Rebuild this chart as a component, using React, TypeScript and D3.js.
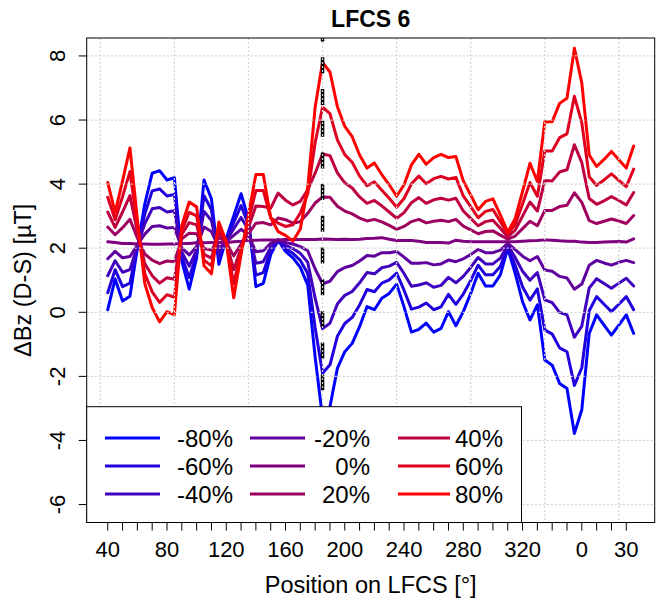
import React from 'react'
import * as d3 from 'd3'

// position along the LFCS, degrees (values past 360 wrap round to 0..35)
const positions = [
  40, 45, 50, 55, 60, 65, 70, 75, 80, 85, 90, 95, 100, 105, 110, 115, 120, 125,
  130, 135, 140, 145, 150, 155, 160, 165, 170, 175, 180, 185, 190, 195, 200, 205,
  210, 215, 220, 225, 230, 235, 240, 245, 250, 255, 260, 265, 270, 275, 280, 285,
  290, 295, 300, 305, 310, 315, 320, 325, 330, 335, 340, 345, 350, 355, 360, 365,
  370, 375, 380, 385, 390, 395,
]

const seriesLabels = ['-80%', '-60%', '-40%', '-20%', '0%', '20%', '40%', '60%', '80%']
const seriesColors = ['#0000FF', '#1F00DF', '#3F00BF', '#5F009F', '#7F007F', '#9F005F', '#BF003F', '#DF001F', '#FF0000']

const minus80 = [
  0.08, 1.04, 0.35, 0.5, 2.0, 3.38, 4.34, 4.42, 4.13, 4.2, 1.6, 0.72, 1.7, 4.13, 3.54, 1.5, 2.3, 3.0,
  3.7, 2.9, 0.8, 0.9, 1.8, 2.25, 1.9, 1.7, 1.4, 0.85, -1.4, -3.3, -2.95, -1.75, -1.23, -0.97,
  -0.45, 0.18, 0.08, 0.44, 0.59, 0.88, 0.17, -0.62, -0.53, -0.34, -0.62, -0.5, 0.02, -0.42, 0.02, 0.59,
  1.22, 0.82, 0.82, 1.17, 2.0, 1.22, 0.33, -0.24, 0.23, -1.49, -1.65, -2.22, -2.38, -3.78, -3.04, -0.66,
  -0.08, -0.4, -0.71, -0.4, -0.08, -0.66,
]
const minus60 = [
  0.61, 1.33, 0.8, 0.91, 2.03, 3.07, 3.79, 3.85, 3.63, 3.68, 1.74, 1.08, 1.82, 3.64, 3.2, 1.67, 2.27, 2.8,
  3.33, 2.74, 1.16, 1.24, 1.92, 2.25, 1.99, 1.84, 1.62, 1.21, -0.48, -1.9, -1.64, -0.75, -0.35, -0.16,
  0.23, 0.71, 0.64, 0.91, 1.01, 1.22, 0.69, 0.1, 0.16, 0.29, 0.08, 0.17, 0.56, 0.25, 0.57, 0.99,
  1.47, 1.17, 1.17, 1.43, 2.05, 1.47, 0.8, 0.38, 0.73, -0.55, -0.68, -1.11, -1.23, -2.28, -1.73, 0.05,
  0.49, 0.25, 0.02, 0.25, 0.49, 0.08,
]
const minus40 = [
  1.14, 1.61, 1.25, 1.33, 2.07, 2.76, 3.23, 3.27, 3.13, 3.17, 1.88, 1.44, 1.94, 3.15, 2.86, 1.84, 2.24, 2.6,
  2.96, 2.58, 1.53, 1.58, 2.03, 2.26, 2.09, 1.99, 1.84, 1.56, 0.44, -0.51, -0.34, 0.26, 0.53, 0.65,
  0.92, 1.24, 1.2, 1.39, 1.44, 1.56, 1.21, 0.81, 0.85, 0.92, 0.78, 0.84, 1.09, 0.92, 1.12, 1.4,
  1.71, 1.51, 1.51, 1.69, 2.1, 1.71, 1.28, 1.0, 1.24, 0.39, 0.3, 0.0, -0.08, -0.78, -0.43, 0.76,
  1.05, 0.9, 0.75, 0.91, 1.06, 0.82,
]
const minus20 = [
  1.67, 1.9, 1.7, 1.74, 2.1, 2.44, 2.68, 2.7, 2.63, 2.65, 2.01, 1.79, 2.05, 2.66, 2.52, 2.01, 2.2, 2.4,
  2.59, 2.41, 1.89, 1.92, 2.15, 2.26, 2.18, 2.13, 2.05, 1.92, 1.35, 0.89, 0.97, 1.27, 1.4, 1.46,
  1.6, 1.77, 1.75, 1.86, 1.86, 1.9, 1.72, 1.53, 1.53, 1.55, 1.48, 1.51, 1.63, 1.58, 1.67, 1.8,
  1.96, 1.86, 1.86, 1.94, 2.15, 1.96, 1.75, 1.61, 1.74, 1.32, 1.28, 1.12, 1.07, 0.72, 0.88, 1.47,
  1.62, 1.54, 1.47, 1.56, 1.62, 1.55,
]
const zero = [
  2.2, 2.18, 2.15, 2.15, 2.13, 2.13, 2.12, 2.12, 2.13, 2.13, 2.15, 2.15, 2.17, 2.17, 2.18, 2.18, 2.17, 2.2,
  2.22, 2.25, 2.25, 2.26, 2.26, 2.26, 2.27, 2.27, 2.27, 2.27, 2.27, 2.29, 2.28, 2.27, 2.28, 2.27,
  2.28, 2.3, 2.31, 2.33, 2.28, 2.24, 2.24, 2.24, 2.22, 2.18, 2.18, 2.18, 2.16, 2.25, 2.22, 2.2,
  2.2, 2.2, 2.2, 2.2, 2.2, 2.2, 2.22, 2.23, 2.24, 2.26, 2.25, 2.23, 2.22, 2.22, 2.19, 2.18,
  2.18, 2.19, 2.2, 2.21, 2.19, 2.29,
]
const plus20 = [
  2.66, 2.42, 2.64, 2.9, 2.32, 1.82, 1.63, 1.52, 1.6, 1.58, 2.29, 2.47, 2.45, 1.99, 1.94, 2.34, 2.18, 1.76,
  2.12, 2.45, 2.78, 2.8, 2.73, 2.94, 2.89, 2.78, 2.83, 3.09, 3.41, 3.6, 3.59, 3.31, 3.16, 3.07,
  2.94, 2.85, 2.9, 2.82, 2.71, 2.59, 2.68, 2.83, 2.9, 2.79, 2.84, 2.87, 2.83, 2.9, 2.69, 2.57,
  2.45, 2.52, 2.54, 2.41, 2.28, 2.38, 2.61, 2.84, 2.7, 3.18, 3.18, 3.3, 3.34, 3.73, 3.43, 2.86,
  2.77, 2.84, 2.91, 2.85, 2.77, 3.02,
]
const plus40 = [
  3.13, 2.65, 3.13, 3.64, 2.52, 1.52, 1.14, 0.91, 1.08, 1.03, 2.43, 2.8, 2.73, 1.81, 1.69, 2.5, 2.19, 1.33,
  2.01, 2.65, 3.32, 3.3, 3.25, 3.72, 3.5, 3.35, 3.46, 3.82, 4.34, 4.94, 4.89, 4.35, 4.04, 3.88,
  3.6, 3.4, 3.49, 3.32, 3.13, 2.93, 3.11, 3.42, 3.58, 3.4, 3.51, 3.56, 3.5, 3.56, 3.16, 2.93,
  2.7, 2.83, 2.87, 2.62, 2.35, 2.56, 3.0, 3.44, 3.16, 4.11, 4.1, 4.38, 4.45, 5.23, 4.67, 3.55,
  3.37, 3.48, 3.61, 3.49, 3.35, 3.74,
]
const plus60 = [
  3.59, 2.89, 3.61, 4.39, 2.71, 1.21, 0.64, 0.31, 0.55, 0.47, 2.56, 3.12, 3.01, 1.63, 1.45, 2.66, 2.19, 0.89,
  1.91, 2.85, 3.8, 3.8, 2.95, 2.78, 2.68, 2.73, 3.1, 3.7, 5.3, 6.4, 6.2, 5.38, 4.92, 4.68,
  4.25, 3.95, 4.07, 3.81, 3.56, 3.28, 3.55, 4.01, 4.25, 4.01, 4.17, 4.24, 4.16, 4.21, 3.63, 3.3,
  2.95, 3.15, 3.21, 2.83, 2.43, 2.74, 3.38, 4.05, 3.62, 5.03, 5.03, 5.45, 5.57, 6.74, 5.91, 4.23,
  3.96, 4.13, 4.32, 4.12, 3.92, 4.47,
]
const plus80 = [
  4.05, 3.12, 4.1, 5.13, 2.9, 0.9, 0.15, -0.3, 0.02, -0.08, 2.7, 3.44, 3.29, 1.45, 1.2, 2.82, 2.2, 0.45,
  1.8, 3.05, 4.3, 4.3, 2.95, 2.52, 2.4, 2.22, 2.6, 3.9, 6.4, 7.8, 7.5, 6.42, 5.8, 5.48,
  4.91, 4.5, 4.66, 4.3, 3.98, 3.62, 3.98, 4.6, 4.93, 4.62, 4.83, 4.93, 4.83, 4.86, 4.1, 3.66,
  3.2, 3.46, 3.54, 3.04, 2.5, 2.92, 3.77, 4.65, 4.08, 5.95, 5.95, 6.52, 6.68, 8.24, 7.15, 4.91,
  4.55, 4.77, 5.02, 4.76, 4.5, 5.19,
]
const seriesValues = [minus80, minus60, minus40, minus20, zero, plus20, plus40, plus60, plus80]

const xTicks = [
  40, 50, 60, 70, 80, 90, 100, 110, 120, 130, 140, 150, 160, 170, 180, 190, 200, 210,
  220, 230, 240, 250, 260, 270, 280, 290, 300, 310, 320, 330, 340, 350, 360, 370, 380, 390,
]
const xLabelAt = [40, 80, 120, 160, 200, 240, 280, 320, 360, 390]
const xLabelText = ['40', '80', '120', '160', '200', '240', '280', '320', '0', '30']
const yTicks = [-6, -4, -2, 0, 2, 4, 6, 8]
const yLimits = [-6, 8]
const gridX = [35, 85, 135, 185, 235, 285, 335, 385]
const markerAt = 185

const W = 659
const H = 599
const left = 86.7
const right = 654.7
const top = 38
const bottom = 522.5
const font = 'Liberation Sans, Arial, Helvetica, sans-serif'

// R style 4% padding of the axis ranges
const pad = (lo: number, hi: number) => {
  const d = (hi - lo) * 0.04
  return [lo - d, hi + d]
}

export default function App() {
  const [x0, x1] = d3.extent(positions) as [number, number]
  const x = d3.scaleLinear().domain(pad(x0, x1)).range([left, right])
  const y = d3.scaleLinear().domain(pad(yLimits[0], yLimits[1])).range([bottom, top])
  const line = d3.line<number>().x((_, i) => x(positions[i])).y(v => y(v))

  const legendCols = [
    { lx0: 105, lx1: 160, tx: 233 },
    { lx0: 250, lx1: 305, tx: 370 },
    { lx0: 398, lx1: 450, tx: 503 },
  ]
  const legendRows = [438, 466, 494]
  const cx = (left + right) / 2
  const cy = (top + bottom) / 2

  return (
    <svg width={W} height={H} style={{ position: 'absolute', left: 0, top: 0, display: 'block', background: '#fff' }} fontFamily={font}>
      <rect x={0} y={0} width={W} height={H} fill="#fff" />

      <g fill="none" strokeLinejoin="round" strokeLinecap="round">
        {seriesValues.map((vals, i) => (
          <path key={seriesLabels[i]} d={line(vals) || ''} stroke={seriesColors[i]} strokeWidth={3} />
        ))}
      </g>

      <line x1={x(markerAt)} x2={x(markerAt)} y1={top} y2={bottom} stroke="#000" strokeWidth={3.5} strokeDasharray="16 15.7" strokeDashoffset={12.4} />

      <g stroke="#D3D3D3" strokeWidth={1.2} strokeDasharray="2 2">
        {gridX.map(g => <line key={'gx' + g} x1={x(g)} x2={x(g)} y1={top} y2={bottom} />)}
        {yTicks.map(t => <line key={'gy' + t} x1={left} x2={right} y1={y(t)} y2={y(t)} />)}
      </g>

      <rect x={left} y={top} width={right - left} height={bottom - top} fill="none" stroke="#000" strokeWidth={1} />

      {/* x axis */}
      <g stroke="#000" strokeWidth={1}>
        {xTicks.map(t => <line key={'xt' + t} x1={x(t)} x2={x(t)} y1={bottom} y2={bottom + 8} />)}
        {yTicks.map(t => <line key={'yt' + t} x1={left} x2={left - 8} y1={y(t)} y2={y(t)} />)}
      </g>
      <g fontSize={22} textAnchor="middle" fill="#000">
        {xLabelAt.map((t, i) => <text key={'xl' + t} x={x(t)} y={557}>{xLabelText[i]}</text>)}
        {yTicks.map(t => (
          <text key={'yl' + t} transform={`translate(65,${y(t)}) rotate(-90)`}>{t}</text>
        ))}
      </g>

      <text x={cx} y={593} fontSize={23.5} textAnchor="middle">Position on LFCS [°]</text>
      <text transform={`translate(31,${cy}) rotate(-90)`} fontSize={23.5} textAnchor="middle">ΔBz (D-S) [µT]</text>
      <text x={cx} y={27} fontSize={23} fontWeight="bold" textAnchor="middle">LFCS 6</text>

      {/* legend */}
      <rect x={left} y={406.7} width={521.5 - left} height={bottom - 406.7} fill="#fff" stroke="#000" strokeWidth={1} />
      {seriesLabels.map((lab, i) => {
        const c = legendCols[Math.floor(i / 3)]
        const ry = legendRows[i % 3]
        return (
          <g key={'lg' + lab}>
            <line x1={c.lx0} x2={c.lx1} y1={ry} y2={ry} stroke={seriesColors[i]} strokeWidth={3} />
            <text x={c.tx} y={ry} dy="0.36em" fontSize={24} textAnchor="end">{lab}</text>
          </g>
        )
      })}
    </svg>
  )
}
